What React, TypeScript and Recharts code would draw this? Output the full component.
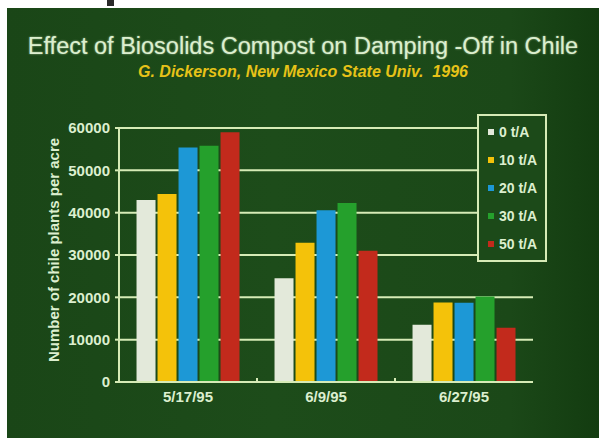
import { Bar, BarChart, CartesianGrid, Legend, XAxis, YAxis } from "recharts";

const dates = ["5/17/95", "6/9/95", "6/27/95"];
const rate0 = [43000, 24500, 13500];
const rate10 = [44400, 32900, 18800];
const rate20 = [55400, 40600, 18700];
const rate30 = [55800, 42300, 20200];
const rate50 = [59000, 31000, 12800];
const yTicks = [0, 10000, 20000, 30000, 40000, 50000, 60000];
const seriesNames = ["0 t/A", "10 t/A", "20 t/A", "30 t/A", "50 t/A"];
const seriesKeys = ["r0", "r10", "r20", "r30", "r50"];
const seriesColors = ["#e3e9da", "#f4c20a", "#1d98d6", "#25a02c", "#c22a1c"];

const data = dates.map((date, i) => ({
  date,
  r0: rate0[i],
  r10: rate10[i],
  r20: rate20[i],
  r30: rate30[i],
  r50: rate50[i]
}));

const ink = "#dcefcf";
const line = "#d6ebb6";
const font = "'Liberation Sans', Arial, sans-serif";

function DateTick(props: any) {
  const { x, y, payload, index, width, visibleTicksCount } = props;
  const half = width / visibleTicksCount / 2;
  const axisY = y - 8;
  return (
    <g>
      {index < visibleTicksCount - 1 && (
        <line x1={x + half} x2={x + half} y1={axisY} y2={axisY - 4} stroke={line} strokeWidth={2} />
      )}
      <text x={x} y={y} dy="0.8em" textAnchor="middle" fill={ink} fontSize={15} fontWeight="bold" fontFamily={font}>
        {payload.value}
      </text>
    </g>
  );
}

function LegendBox({ payload }: any) {
  return (
    <div
      style={{
        width: 70,
        height: 148,
        border: `2px solid ${line}`,
        background: "#1c4a19",
        display: "flex",
        flexDirection: "column",
        justifyContent: "space-around",
        padding: "2px 0",
        boxSizing: "border-box"
      }}
    >
      {(payload ?? []).map((item: any) => (
        <div key={item.value} style={{ display: "flex", alignItems: "center", paddingLeft: 9 }}>
          <span style={{ width: 6, height: 6, background: item.color, marginRight: 5 }} />
          <span style={{ color: ink, fontSize: 14, fontWeight: "bold", fontFamily: font }}>{item.value}</span>
        </div>
      ))}
    </div>
  );
}

export default function App() {
  return (
    <div style={{ position: "absolute", left: 0, top: 0, width: 599, height: 438, background: "#ffffff", overflow: "hidden" }}>
      <div style={{ position: "absolute", left: 107, top: 0, width: 7, height: 6, background: "#2a2a2a" }} />
      <div
        style={{
          position: "absolute",
          left: 7,
          top: 8,
          width: 592,
          height: 430,
          background: "linear-gradient(90deg, #1a4617 0%, #1d4c1a 45%, #1b4818 85%, #133c10 100%)"
        }}
      />
      <div
        style={{
          position: "absolute",
          left: 7,
          top: 33,
          width: 592,
          textAlign: "center",
          color: ink,
          fontFamily: font,
          fontSize: 23.5,
          textShadow: "0 0 2px rgba(220,240,200,0.7)"
        }}
      >
        Effect of Biosolids Compost on Damping -Off in Chile
      </div>
      <div
        style={{
          position: "absolute",
          left: 7,
          top: 63,
          width: 592,
          textAlign: "center",
          color: "#e6c218",
          fontFamily: font,
          fontSize: 16,
          fontStyle: "italic",
          fontWeight: "bold",
          whiteSpace: "pre"
        }}
      >
        {"G. Dickerson, New Mexico State Univ.  1996"}
      </div>
      <div style={{ position: "absolute", left: 0, top: 0 }}>
        <BarChart
          width={599}
          height={438}
          data={data}
          margin={{ top: 128, right: 66, bottom: 26, left: 59 }}
          barCategoryGap="12.7%"
          barGap={2}
        >
          <CartesianGrid horizontal vertical={false} stroke={line} strokeWidth={2} />
          <XAxis
            dataKey="date"
            height={30}
            axisLine={{ stroke: line, strokeWidth: 2 }}
            tickLine={false}
            tickSize={0}
            tickMargin={8}
            tick={<DateTick />}
            interval={0}
          />
          <YAxis
            width={60}
            domain={[0, 60000]}
            ticks={yTicks}
            interval={0}
            axisLine={{ stroke: line, strokeWidth: 2 }}
            tickLine={{ stroke: line, strokeWidth: 2 }}
            tickSize={4}
            tickMargin={5}
            tick={{ fill: ink, fontSize: 15, fontWeight: "bold", fontFamily: font }}
          />
          <Legend
            layout="vertical"
            align="center"
            verticalAlign="middle"
            content={<LegendBox />}
            wrapperStyle={{ left: 477, top: 114, width: 70, height: 148 }}
          />
          {seriesKeys.map((key, i) => (
            <Bar key={key} dataKey={key} name={seriesNames[i]} fill={seriesColors[i]} isAnimationActive={false} />
          ))}
          <text
            x={55}
            y={250}
            transform="rotate(-90 55 250)"
            textAnchor="middle"
            dominantBaseline="middle"
            fill={ink}
            fontSize={15}
            fontWeight="bold"
            fontFamily={font}
          >
            Number of chile plants per acre
          </text>
        </BarChart>
      </div>
    </div>
  );
}
